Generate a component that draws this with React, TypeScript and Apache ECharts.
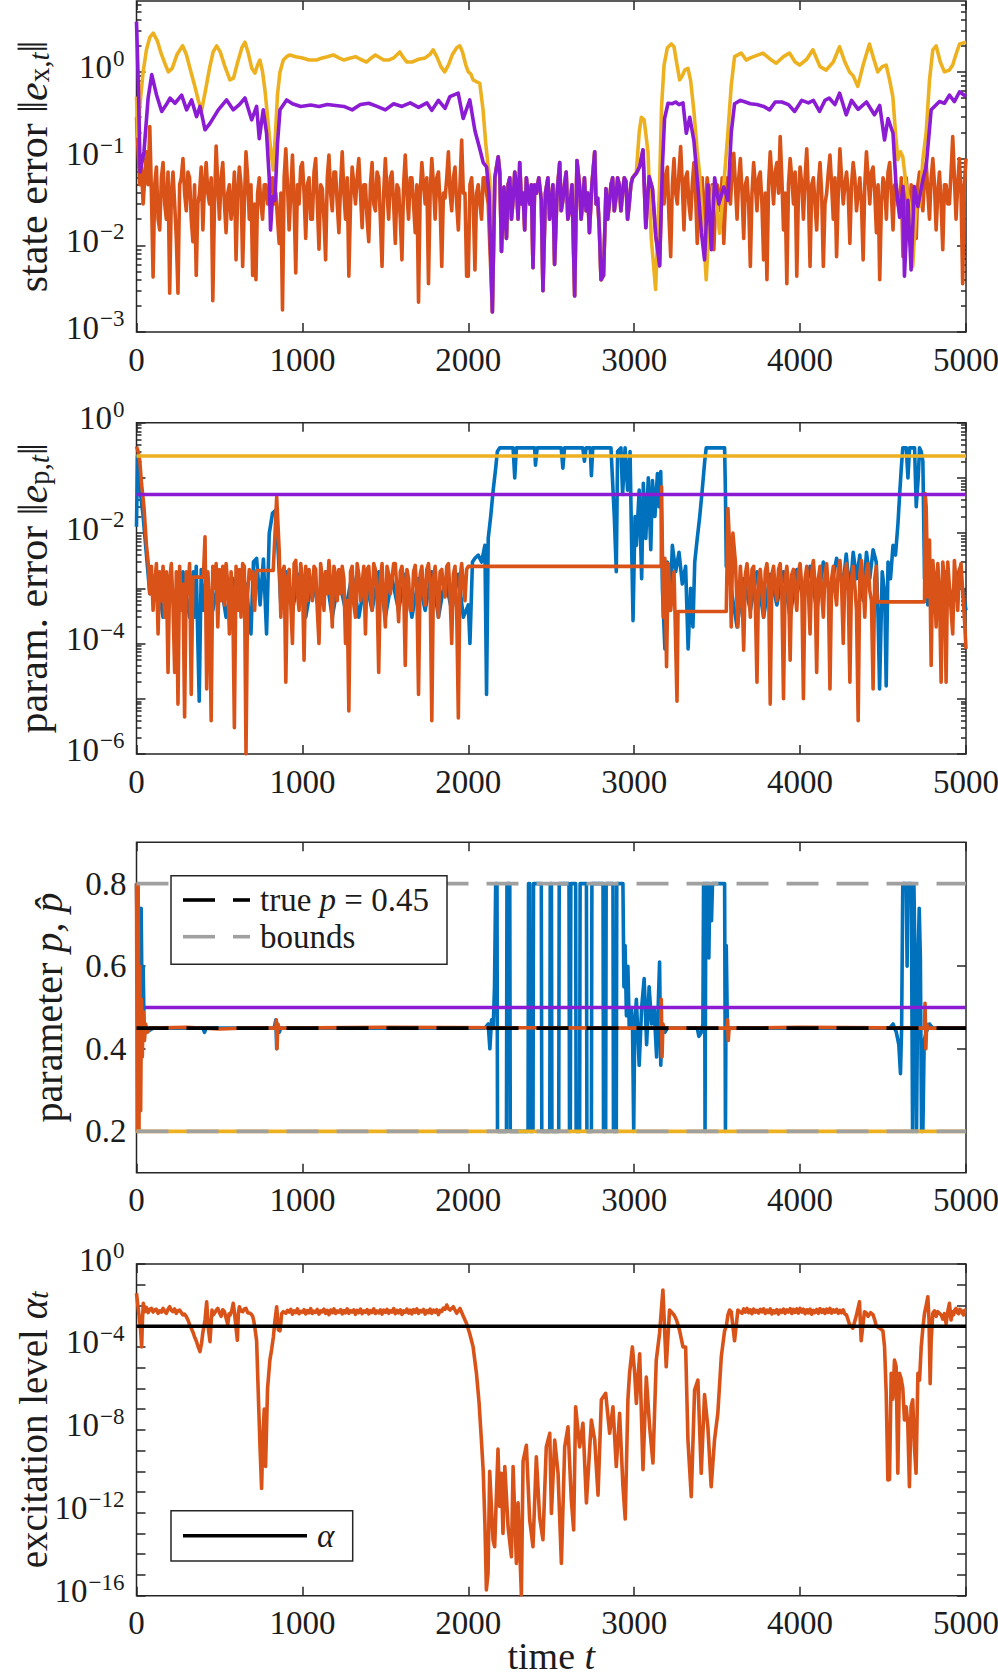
import React, { useEffect, useRef } from "react";
import * as echarts from "echarts";

type P = [number, number][];

// ---------------- axis values ----------------
const timeMin = 0;
const timeMax = 5000;
const timeStep = 1000;
const p1Decades = [-3, -2, -1, 0];
const p2Decades = [-6, -5, -4, -3, -2, -1, 0];
const p2LabelDecades = [-6, -4, -2, 0];
const p3Ticks = [0.2, 0.4, 0.6, 0.8];
const p4Decades = [-16, -15, -14, -13, -12, -11, -10, -9, -8, -7, -6, -5, -4, -3, -2, -1, 0];
const p4LabelDecades = [-16, -12, -8, -4, 0];

// ---------------- constants ----------------
const paramErrYellow = 0.25;
const paramErrPurple = 0.05;
const paramYellow = 0.2;
const paramPurple = 0.5;
const trueP = 0.45;
const boundLow = 0.2;
const boundHigh = 0.8;
const alphaLevel = 1e-3;

// uniformly sampled stretches: [startTime, stepTime, values]
const seq = (t0: number, dt: number, vals: number[]): P => vals.map((v, k) => [t0 + k * dt, v]);

// ---------------- panel 1 : state error ----------------
const stateErrPurple: P = [
  [0, 3.8], [12, 0.6], [22, 0.07], [45, 0.12], [70, 0.5], [92, 0.93], [120, 0.55], [152, 0.35], [180, 0.42], [202, 0.5],
  [232, 0.435], [272, 0.54], [302, 0.365], [332, 0.475], [362, 0.305], [383, 0.4], [413, 0.215], [443, 0.255], [493, 0.365],
  [543, 0.475], [583, 0.365], [620, 0.42], [654, 0.5], [694, 0.28], [724, 0.4], [740, 0.17], [764, 0.365], [784, 0.196],
  [800, 0.06], [808, 0.015], [820, 0.0365], [834, 0.033], [850, 0.15], [865, 0.365], [905, 0.475], [940, 0.43], [990, 0.4],
  [1050, 0.415], [1100, 0.4], [1150, 0.42], [1200, 0.41], [1250, 0.4], [1300, 0.365], [1350, 0.42], [1400, 0.435],
  [1450, 0.4], [1500, 0.365], [1550, 0.43], [1600, 0.4], [1650, 0.44], [1700, 0.39], [1750, 0.44], [1780, 0.36],
  [1820, 0.47], [1860, 0.38], [1889, 0.52], [1939, 0.57], [1969, 0.29], [2009, 0.475], [2040, 0.21], [2069, 0.13],
  [2090, 0.09], [2110, 0.08], [2125, 0.04], [2145, 0.0017], [2160, 0.06], [2180, 0.105], [2190, 0.068], [2200, 0.0085],
  [2215, 0.047], [2230, 0.012], [2240, 0.05], [2250, 0.06], [2260, 0.02], [2270, 0.033], [2280, 0.07], [2290, 0.05],
  [2300, 0.02], [2310, 0.09], [2320, 0.03], [2330, 0.04], [2340, 0.015], [2350, 0.06], [2360, 0.04], [2370, 0.03],
  [2380, 0.05], [2390, 0.0055], [2400, 0.05], [2410, 0.04], [2425, 0.06], [2440, 0.033], [2450, 0.003], [2465, 0.04],
  [2480, 0.06], [2490, 0.02], [2500, 0.03], [2510, 0.05], [2520, 0.006], [2535, 0.04], [2551, 0.09], [2560, 0.025],
  [2570, 0.033], [2580, 0.05], [2590, 0.07], [2600, 0.02], [2610, 0.025], [2625, 0.05], [2641, 0.0026], [2655, 0.095],
  [2670, 0.05], [2680, 0.02], [2690, 0.033], [2700, 0.06], [2710, 0.025], [2720, 0.04], [2730, 0.014], [2745, 0.05],
  [2762, 0.12], [2770, 0.03], [2780, 0.035], [2790, 0.015], [2800, 0.004], [2815, 0.0045], [2830, 0.045], [2840, 0.02],
  [2850, 0.03], [2860, 0.05], [2870, 0.06], [2880, 0.025], [2890, 0.035], [2900, 0.06], [2910, 0.05], [2920, 0.025],
  [2930, 0.04], [2940, 0.06], [2950, 0.055], [2960, 0.02], [2970, 0.03], [2980, 0.05], [2990, 0.06], [3013, 0.068],
  [3033, 0.081], [3053, 0.126], [3070, 0.016], [3090, 0.062], [3110, 0.045], [3130, 0.013], [3153, 0.0058], [3170, 0.081],
  [3183, 0.29], [3204, 0.435], [3230, 0.43], [3250, 0.45], [3270, 0.42], [3294, 0.44], [3314, 0.196], [3335, 0.3],
  [3360, 0.16], [3384, 0.0475], [3405, 0.014], [3424, 0.0068], [3445, 0.05], [3465, 0.0089], [3485, 0.06], [3510, 0.03],
  [3540, 0.047], [3565, 0.033], [3585, 0.2], [3605, 0.43], [3640, 0.47], [3670, 0.45], [3700, 0.43], [3740, 0.42],
  [3780, 0.4], [3816, 0.365], [3850, 0.45], [3890, 0.45], [3930, 0.42], [3967, 0.35], [4010, 0.47], [4050, 0.44],
  [4080, 0.47], [4117, 0.35], [4150, 0.47], [4175, 0.5], [4210, 0.42], [4238, 0.57], [4278, 0.32], [4310, 0.47],
  [4350, 0.37], [4400, 0.45], [4448, 0.32], [4480, 0.41], [4509, 0.164], [4530, 0.29], [4560, 0.196], [4579, 0.0475],
  [4600, 0.021], [4620, 0.0475], [4629, 0.0044], [4650, 0.033], [4669, 0.0052], [4689, 0.0475], [4710, 0.028],
  [4740, 0.057], [4760, 0.081], [4790, 0.365], [4810, 0.4], [4840, 0.455], [4870, 0.435], [4900, 0.54], [4930, 0.455],
  [4961, 0.59], [5000, 0.52],
];

const stateErrYellowA: P = [
  [0, 0.52], [8, 0.18], [20, 0.4], [40, 1.0], [60, 1.8], [80, 2.5], [101, 2.8], [125, 2.3], [150, 1.6], [175, 1.2],
  [192, 1.0], [215, 1.1], [245, 1.6], [278, 2.0], [300, 1.6], [325, 1.05], [350, 0.7], [375, 0.45], [393, 0.365],
  [415, 0.6], [440, 1.1], [462, 1.7], [483, 2.0], [505, 1.7], [530, 1.2], [563, 0.81], [585, 0.85], [610, 1.3],
  [635, 1.9], [654, 2.2], [672, 1.7], [695, 1.1], [714, 0.97], [730, 1.2], [744, 1.37], [760, 1.0], [775, 0.6],
  [790, 0.3], [805, 0.15], [824, 0.074], [838, 0.2], [850, 0.55], [865, 1.0], [885, 1.37], [905, 1.5], [925, 1.57],
  [960, 1.5], [1000, 1.45], [1040, 1.37], [1085, 1.37], [1120, 1.45], [1150, 1.5], [1186, 1.57], [1220, 1.45],
  [1250, 1.37], [1290, 1.45], [1320, 1.5], [1350, 1.4], [1386, 1.3], [1415, 1.45], [1440, 1.57], [1470, 1.45],
  [1490, 1.37], [1520, 1.37], [1550, 1.45], [1587, 1.7], [1610, 1.45], [1630, 1.3], [1660, 1.3], [1700, 1.4],
  [1740, 1.45], [1770, 1.6], [1788, 1.8], [1810, 1.5], [1835, 1.15], [1858, 1.0], [1880, 1.2], [1905, 1.6],
  [1930, 1.9], [1949, 2.0], [1965, 1.7], [1985, 1.2], [2000, 1.0], [2015, 0.95], [2029, 0.81], [2045, 0.78],
  [2069, 0.74], [2089, 0.365], [2105, 0.15], [2120, 0.08], [2130, 0.057],
];

const stateErrYellowB: P = [
  [3013, 0.07], [3030, 0.2], [3043, 0.3], [3060, 0.28], [3083, 0.12], [3103, 0.012], [3129, 0.0031], [3145, 0.02],
  [3153, 0.05], [3165, 0.4], [3180, 1.2], [3200, 1.9], [3224, 2.1], [3240, 1.95], [3255, 1.3], [3274, 0.81],
  [3290, 0.9], [3305, 1.05], [3324, 1.1], [3340, 0.8], [3360, 0.35], [3380, 0.12], [3394, 0.068], [3410, 0.02],
  [3425, 0.008], [3434, 0.004], [3445, 0.01], [3455, 0.02], [3475, 0.0475], [3495, 0.03], [3515, 0.0138], [3540, 0.05],
  [3565, 0.2], [3585, 0.7], [3605, 1.5], [3645, 1.65], [3675, 1.37], [3700, 1.45], [3740, 1.55], [3776, 1.65],
  [3820, 1.4], [3856, 1.26], [3900, 1.5], [3936, 1.65], [3970, 1.3], [3997, 1.2], [4040, 1.4], [4077, 1.8],
  [4120, 1.15], [4157, 1.05], [4200, 1.3], [4238, 1.95], [4270, 1.3], [4298, 1.0], [4320, 0.9], [4348, 0.68],
  [4380, 1.2], [4418, 2.1], [4440, 1.5], [4468, 1.0], [4495, 1.15], [4519, 1.2], [4540, 0.8], [4559, 0.52],
  [4575, 0.2], [4589, 0.097], [4605, 0.12], [4619, 0.105], [4640, 0.0475], [4659, 0.03], [4679, 0.0057], [4700, 0.03],
  [4720, 0.028], [4740, 0.097], [4760, 0.2], [4780, 0.8], [4800, 1.8], [4820, 2.0], [4845, 1.3], [4870, 1.0],
  [4900, 1.05], [4920, 1.2], [4940, 1.6], [4961, 2.1], [5000, 2.2],
];

// orange, t = 0 .. 2120 every 10
const stateErrOrangeA = [
  0.3, 0.12, 0.05, 0.08, 0.03, 0.06, 0.12, 0.05, 0.235, 0.04,
  0.0043, 0.05, 0.08, 0.02, 0.015, 0.06, 0.09, 0.03, 0.02, 0.07,
  0.0028, 0.04, 0.07, 0.03, 0.012, 0.0028, 0.05, 0.06, 0.1, 0.04,
  0.025, 0.07, 0.06, 0.02, 0.011, 0.05, 0.0045, 0.03, 0.04, 0.08,
  0.015, 0.05, 0.09, 0.04, 0.03, 0.06, 0.0023, 0.03, 0.14, 0.05,
  0.02, 0.06, 0.09, 0.03, 0.014, 0.04, 0.05, 0.02, 0.03, 0.07,
  0.0068, 0.04, 0.08, 0.05, 0.0057, 0.03, 0.12, 0.06, 0.02, 0.05,
  0.0045, 0.03, 0.004, 0.04, 0.06, 0.03, 0.02, 0.05, 0.05, 0.03,
  0.035, 0.05, 0.06, 0.03, 0.04, 0.02, 0.0105, 0.04, 0.0018, 0.06,
  0.13, 0.05, 0.015, 0.04, 0.11, 0.03, 0.0048, 0.05, 0.03, 0.08,
  0.09, 0.04, 0.012, 0.05, 0.06, 0.02, 0.02, 0.07, 0.1, 0.03,
  0.009, 0.05, 0.045, 0.02, 0.0068, 0.06, 0.11, 0.04, 0.025, 0.07,
  0.07, 0.03, 0.014, 0.05, 0.12, 0.04, 0.02, 0.06, 0.0044, 0.03,
  0.08, 0.05, 0.03, 0.06, 0.1, 0.04, 0.016, 0.05, 0.05, 0.02,
  0.011, 0.05, 0.09, 0.03, 0.025, 0.07, 0.06, 0.02, 0.0057, 0.04,
  0.1, 0.04, 0.02, 0.06, 0.07, 0.03, 0.0105, 0.05, 0.045, 0.02,
  0.0068, 0.05, 0.11, 0.04, 0.02, 0.06, 0.06, 0.03, 0.014, 0.05,
  0.0022, 0.04, 0.09, 0.05, 0.03, 0.06, 0.0036, 0.04, 0.1, 0.05,
  0.02, 0.06, 0.07, 0.03, 0.0057, 0.04, 0.035, 0.06, 0.12, 0.04,
  0.025, 0.06, 0.08, 0.03, 0.015, 0.05, 0.164, 0.04, 0.04, 0.0044,
  0.0044, 0.05, 0.06, 0.03, 0.0052, 0.04, 0.05, 0.03, 0.02, 0.06,
  0.06, 0.04, 0.03,
];

// orange, t = 3180 .. 5000 every 10
const stateErrOrangeB = [
  0.03, 0.06, 0.08, 0.02, 0.0074, 0.05, 0.1, 0.04, 0.03, 0.07,
  0.138, 0.05, 0.015, 0.06, 0.07, 0.03, 0.02, 0.05, 0.09, 0.04,
  0.0105, 0.03, 0.04, 0.06, 0.015, 0.03, 0.06, 0.04, 0.02, 0.05,
  0.0089, 0.03, 0.05, 0.04, 0.025, 0.06, 0.0105, 0.03, 0.06, 0.04,
  0.03, 0.07, 0.115, 0.05, 0.02, 0.06, 0.1, 0.04, 0.012, 0.05,
  0.06, 0.03, 0.0057, 0.04, 0.09, 0.05, 0.025, 0.06, 0.07, 0.03,
  0.0068, 0.04, 0.004, 0.05, 0.12, 0.06, 0.03, 0.07, 0.09, 0.04,
  0.18, 0.06, 0.015, 0.04, 0.0036, 0.05, 0.1, 0.06, 0.03, 0.07,
  0.0044, 0.04, 0.08, 0.05, 0.02, 0.06, 0.13, 0.04, 0.0057, 0.05,
  0.06, 0.03, 0.015, 0.05, 0.09, 0.04, 0.0057, 0.03, 0.04, 0.07,
  0.11, 0.05, 0.02, 0.06, 0.0074, 0.04, 0.13, 0.06, 0.03, 0.05,
  0.07, 0.04, 0.0105, 0.05, 0.09, 0.06, 0.025, 0.04, 0.06, 0.03,
  0.0068, 0.05, 0.12, 0.06, 0.03, 0.07, 0.08, 0.04, 0.014, 0.05,
  0.004, 0.03, 0.06, 0.05, 0.02, 0.07, 0.09, 0.04, 0.015, 0.05,
  0.05, 0.03, 0.025, 0.06, 0.0074, 0.04, 0.06, 0.03, 0.02, 0.05,
  0.04, 0.02, 0.012, 0.05, 0.07, 0.04, 0.025, 0.06, 0.09, 0.04,
  0.02, 0.06, 0.1, 0.05, 0.015, 0.04, 0.07, 0.03, 0.0089, 0.05,
  0.05, 0.03, 0.03, 0.07, 0.18, 0.06, 0.02, 0.05, 0.1, 0.04,
  0.0036, 0.05, 0.1,
];

// ---------------- panel 2 : parameter error ----------------
const paramErrOrangeStart: P = [[0, 0.37], [10, 0.3], [20, 0.2], [30, 0.08], [45, 0.03], [60, 0.006]];
// t = 70 .. 340 every 10
const paramErrOrange1 = [
  0.003, 0.0008, 0.0025, 0.0004, 0.0012, 0.0028, 0.00015, 0.002, 0.0006, 0.0025,
  0.0003, 0.002, 3e-5, 0.0015, 0.0028, 0.0005, 3e-5, 0.002, 8e-6, 0.0025,
  0.0004, 0.0012, 4.7e-6, 0.002, 0.0008, 0.0028, 1.2e-5, 0.0016,
];
const paramErrOrangeMid1: P = [[403, 0.0016], [413, 0.0086], [423, 1.5e-5]];
// t = 430 .. 700 every 10
const paramErrOrange2 = [
  0.002, 0.0006, 4e-6, 0.0025, 0.001, 0.0028, 0.0002, 0.0022, 0.0006, 0.0025,
  0.0005, 0.0028, 0.0012, 0.00015, 0.002, 0.0007, 3e-6, 0.0025, 0.0004, 0.0022,
  0.0003, 0.0028, 0.0025, 1e-6, 0.0008, 0.0022, 0.0015, 0.002,
];
const paramErrOrangeMid2: P = [[712, 0.0004], [724, 0.0021], [824, 0.0021], [835, 0.01], [845, 0.045], [860, 0.005]];
// t = 870 .. 2000 every 10
const paramErrOrange3 = [
  0.0003, 0.002, 0.0025, 2e-5, 0.0015, 0.0022, 0.0005, 0.0001, 0.0028, 0.0032,
  0.0008, 0.0004, 0.0028, 0.0015, 5e-5, 0.0025, 0.0006, 0.0022, 0.0012, 0.0006,
  0.0025, 0.0022, 0.0004, 0.0001, 0.0028, 0.0015, 0.0004, 0.002, 0.0008, 0.0032,
  0.0012, 0.0002, 0.0025, 0.0018, 0.0006, 0.0022, 0.0008, 0.0025, 0.0015, 0.0001,
  0.0006, 6e-6, 0.002, 0.0025, 0.0005, 0.0003, 0.0028, 0.0018, 0.0006, 0.0012,
  0.0025, 0.00015, 0.0022, 0.0025, 0.0008, 0.0004, 0.0028, 0.0022, 0.0009, 3e-5,
  0.0015, 0.0028, 0.0006, 0.0002, 0.0025, 0.0018, 0.0008, 0.0015, 0.0028, 0.0028,
  0.0009, 0.00025, 0.002, 0.0025, 0.0012, 4e-5, 0.0022, 0.0015, 0.0004, 0.0004,
  0.002, 0.0026, 0.0009, 1.2e-5, 0.0018, 0.0025, 0.0008, 0.0005, 0.0022, 0.0028,
  0.0012, 4e-6, 0.0015, 0.0025, 0.0009, 0.0003, 0.002, 0.0022, 0.0011, 0.0007,
  0.0025, 0.0028, 0.0008, 0.0001, 0.0018, 0.0025, 0.0004, 4.5e-6, 0.0015, 0.0028,
  0.0012, 0.0006, 0.0022, 0.0025,
];
const paramErrOrangeMid3: P = [
  [2010, 0.0025], [3163, 0.0025], [3165, 0.069], [3175, 0.0003], [3185, 0.0035], [3195, 3.8e-5], [3205, 0.0028],
  [3220, 0.0004], [3240, 0.002], [3258, 9e-6], [3264, 0.00038], [3555, 0.00038], [3565, 0.028], [3575, 0.006],
  [3585, 0.0002], [3595, 0.01], [3610, 0.003], [3625, 0.0002],
];
// t = 3640 .. 4450 every 10
const paramErrOrange4 = [
  0.0025, 0.0008, 7.6e-5, 0.0018, 0.0028, 0.0012, 0.0003, 0.0022, 0.0025, 0.0006,
  2e-5, 0.0015, 0.0022, 0.0009, 0.0003, 0.002, 0.0028, 0.0012, 8e-6, 0.0018,
  0.0025, 0.001, 0.0006, 0.0022, 0.0028, 0.0008, 1e-5, 0.0015, 0.0025, 0.0012,
  5e-5, 0.0018, 0.0022, 0.0009, 0.0004, 0.002, 0.0028, 0.0011, 1e-5, 0.0015,
  0.0025, 0.0009, 0.00015, 0.002, 0.0032, 0.0012, 3e-5, 0.0015, 0.0025, 0.0008,
  0.0003, 0.0018, 0.0028, 0.001, 1.5e-5, 0.0015, 0.0025, 0.0009, 0.0005, 0.0022,
  0.0032, 0.0012, 0.0001, 0.0018, 0.0028, 0.0009, 2e-5, 0.0015, 0.0025, 0.0011,
  0.0004, 4e-6, 0.0018, 0.0032, 0.0012, 0.0003, 0.002, 0.0028, 0.0009, 0.0006,
  1.5e-5, 0.0015,
];
const paramErrOrangeMid4: P = [
  [4459, 0.0025], [4465, 0.00057], [4750, 0.00057], [4754, 0.052], [4760, 0.03], [4770, 0.0007], [4780, 0.0075],
  [4790, 4e-5],
];
// t = 4800 .. 5000 every 10
const paramErrOrange5 = [
  0.0032, 0.0012, 0.0002, 0.0028, 0.0009, 2e-5, 0.003, 0.0015, 2e-5, 0.003,
  0.0011, 0.0004, 0.00015, 0.0032, 0.0012, 0.0004, 0.002, 0.0028, 0.0009, 0.0003,
  8e-5,
];

const paramErrBlue: P = [
  [0, 0.013], [6, 0.25], [14, 0.15], [25, 0.05], [40, 0.02], [60, 0.004], [80, 0.0008], [120, 0.002], [160, 0.0003],
  [200, 0.0015], [240, 0.0004], [280, 0.002], [320, 0.0003], [342, 0.002], [350, 0.0003], [360, 0.0025], [370, 0.0001],
  [378, 9e-6], [390, 0.0022], [403, 0.0004], [420, 0.0015], [460, 0.0004], [500, 0.0018], [540, 0.0003], [580, 0.0015],
  [620, 0.0004], [660, 0.0012], [690, 0.00015], [705, 0.003], [724, 0.0035], [745, 0.0005], [765, 0.0034], [784, 0.00015],
  [800, 0.0098], [820, 0.023], [840, 0.026], [850, 0.008], [870, 0.0005], [900, 0.002], [940, 0.0004], [980, 0.0018],
  [1020, 0.0003], [1060, 0.0015], [1100, 0.0004], [1140, 0.002], [1180, 0.0003], [1220, 0.0015], [1260, 0.0004],
  [1300, 0.0018], [1340, 0.0003], [1380, 0.0015], [1420, 0.0004], [1460, 0.002], [1500, 0.0003], [1540, 0.0015],
  [1580, 0.0004], [1620, 0.0018], [1660, 0.0003], [1700, 0.0015], [1740, 0.0004], [1780, 0.002], [1820, 0.0003],
  [1860, 0.0015], [1900, 0.0004], [1940, 0.0018], [1970, 0.0003], [2000, 0.0005], [2010, 0.0001], [2025, 0.003],
  [2040, 0.0035], [2060, 0.004], [2080, 0.003], [2100, 0.006], [2110, 1.2e-5], [2120, 0.008], [2135, 0.02], [2150, 0.06],
  [2165, 0.15], [2175, 0.3], [2190, 0.35], [2270, 0.35], [2280, 0.1], [2290, 0.35], [2400, 0.35], [2405, 0.17],
  [2415, 0.35], [2560, 0.35], [2570, 0.15], [2580, 0.35], [2690, 0.35], [2700, 0.2], [2710, 0.35], [2735, 0.35],
  [2742, 0.11], [2750, 0.35], [2860, 0.35], [2880, 0.02], [2892, 0.002], [2900, 0.3], [2920, 0.35], [2930, 0.05],
  [2945, 0.35], [2960, 0.06], [2975, 0.3], [2985, 0.005], [2993, 0.00026], [3005, 0.02], [3013, 0.006], [3030, 0.06],
  [3045, 0.0015], [3055, 0.08], [3070, 0.008], [3085, 0.1], [3100, 0.005], [3110, 0.09], [3125, 0.02], [3140, 0.12],
  [3150, 0.03], [3160, 0.13], [3170, 0.001], [3185, 8e-5], [3200, 0.003], [3215, 0.0004], [3230, 0.006], [3250, 0.002],
  [3270, 0.0045], [3290, 0.0012], [3310, 0.0025], [3325, 8e-5], [3340, 0.001], [3354, 0.0002], [3365, 0.003],
  [3380, 0.008], [3395, 0.02], [3410, 0.06], [3425, 0.2], [3434, 0.35], [3545, 0.35], [3550, 0.05], [3555, 0.0025],
  [3560, 0.01], [3580, 0.0012], [3620, 0.0002], [3660, 0.0015], [3700, 0.0004], [3740, 0.002], [3780, 0.0003],
  [3820, 0.0018], [3860, 0.0005], [3900, 0.002], [3940, 0.0003], [3980, 0.0022], [4020, 0.0006], [4060, 0.0025],
  [4100, 0.0004], [4140, 0.003], [4180, 0.0008], [4220, 0.0035], [4260, 0.0012], [4278, 0.0042], [4300, 0.0008],
  [4320, 0.0045], [4340, 0.0015], [4360, 0.004], [4380, 0.0006], [4400, 0.0045], [4420, 0.0015], [4440, 0.005],
  [4459, 0.003], [4470, 0.0003], [4479, 1.5e-5], [4495, 0.002], [4510, 0.0008], [4519, 1.7e-5], [4530, 0.003],
  [4545, 0.0015], [4560, 0.006], [4575, 0.004], [4590, 0.015], [4600, 0.05], [4610, 0.15], [4619, 0.35], [4640, 0.35],
  [4650, 0.1], [4660, 0.35], [4690, 0.35], [4700, 0.03], [4712, 0.1], [4720, 0.35], [4730, 0.3], [4740, 0.2],
  [4750, 0.0015], [4760, 0.006], [4770, 0.0005], [4780, 0.0012], [4800, 0.0025], [4840, 0.0006], [4880, 0.002],
  [4920, 0.0005], [4960, 0.0022], [5000, 0.0004],
];

// ---------------- panel 3 : parameter estimate ----------------
const paramBlue: P = [
  [0, 0.8], [10, 0.45], [20, 0.5], [28, 0.74], [34, 0.5], [40, 0.6], [46, 0.45], [60, 0.44], [100, 0.45], [400, 0.45],
  [410, 0.44], [420, 0.45], [830, 0.45], [840, 0.47], [845, 0.4], [850, 0.46], [860, 0.44], [870, 0.45], [2100, 0.45],
  [2120, 0.46], [2130, 0.4], [2140, 0.47], [2150, 0.45], [2158, 0.55], [2165, 0.8], [2173, 0.8], [2176, 0.2], [2230, 0.2],
  [2233, 0.8], [2250, 0.8], [2253, 0.2], [2360, 0.2], [2363, 0.8], [2370, 0.8], [2373, 0.2], [2390, 0.2], [2393, 0.8],
  [2440, 0.8], [2443, 0.2], [2491, 0.2], [2494, 0.8], [2501, 0.8], [2504, 0.2], [2545, 0.2], [2548, 0.8], [2607, 0.8],
  [2610, 0.2], [2615, 0.2], [2618, 0.8], [2647, 0.8], [2650, 0.2], [2671, 0.2], [2674, 0.8], [2712, 0.8], [2715, 0.2],
  [2742, 0.2], [2745, 0.8], [2812, 0.8], [2815, 0.2], [2828, 0.2], [2831, 0.8], [2872, 0.8], [2875, 0.2], [2892, 0.2],
  [2895, 0.8], [2932, 0.8], [2938, 0.55], [2945, 0.65], [2953, 0.48], [2962, 0.6], [2970, 0.45], [2983, 0.5],
  [2990, 0.45], [2997, 0.2], [3003, 0.45], [3013, 0.52], [3030, 0.36], [3045, 0.5], [3060, 0.57], [3075, 0.41],
  [3090, 0.55], [3105, 0.46], [3120, 0.5], [3135, 0.38], [3153, 0.61], [3160, 0.36], [3170, 0.46], [3185, 0.44],
  [3200, 0.45], [3380, 0.45], [3390, 0.43], [3405, 0.44], [3414, 0.46], [3418, 0.8], [3424, 0.8], [3427, 0.2],
  [3432, 0.8], [3445, 0.8], [3450, 0.62], [3456, 0.8], [3466, 0.71], [3472, 0.8], [3545, 0.8], [3550, 0.2], [3555, 0.65],
  [3562, 0.44], [3575, 0.45], [4540, 0.45], [4560, 0.46], [4580, 0.44], [4595, 0.41], [4605, 0.34], [4612, 0.45],
  [4619, 0.8], [4640, 0.8], [4645, 0.6], [4650, 0.8], [4670, 0.8], [4678, 0.2], [4686, 0.8], [4695, 0.55], [4702, 0.2],
  [4710, 0.6], [4718, 0.74], [4725, 0.62], [4732, 0.2], [4740, 0.2], [4748, 0.42], [4760, 0.44], [4780, 0.46],
  [4800, 0.45], [5000, 0.45],
];

const paramOrange: P = [
  [0, 0.8], [5, 0.2], [10, 0.8], [15, 0.2], [20, 0.6], [25, 0.25], [30, 0.52], [35, 0.38], [40, 0.49], [48, 0.42],
  [55, 0.46], [65, 0.44], [80, 0.45], [300, 0.452], [500, 0.448], [700, 0.451], [840, 0.45], [843, 0.47], [847, 0.4],
  [852, 0.46], [860, 0.45], [1500, 0.452], [3160, 0.45], [3163, 0.52], [3168, 0.38], [3173, 0.46], [3180, 0.45],
  [3560, 0.45], [3563, 0.47], [3567, 0.42], [3572, 0.45], [4000, 0.452], [4750, 0.45], [4753, 0.51], [4758, 0.4],
  [4763, 0.46], [4770, 0.45], [5000, 0.45],
];

// ---------------- panel 4 : excitation level ----------------
const excitationStart: P = [
  [0, 0.039], [8, 0.01], [16, 0.003], [24, 0.0008], [31, 0.0001], [36, 0.002], [41, 0.0126], [50, 0.005], [60, 0.008],
  [70, 0.0045], [80, 0.0065], [90, 0.0072], [100, 0.0048], [110, 0.0062], [120, 0.0065], [130, 0.0042], [140, 0.0055],
  [150, 0.0048], [160, 0.0072], [170, 0.0052], [180, 0.0042], [190, 0.0066], [200, 0.0087], [210, 0.0058], [220, 0.005],
  [230, 0.0068], [240, 0.0042], [250, 0.0055], [260, 0.006], [270, 0.0045], [280, 0.0035], [290, 0.0038], [300, 0.0029],
  [310, 0.002], [320, 0.0012], [330, 0.0008], [343, 0.00046], [350, 0.0003], [360, 0.0002], [372, 0.0001], [383, 6e-5],
  [392, 0.00015], [400, 0.0005], [413, 0.002], [423, 0.015], [433, 0.0008], [443, 0.00018], [455, 0.006], [462, 0.0035],
  [470, 0.0042], [480, 0.0058], [490, 0.0072], [500, 0.0045], [510, 0.003], [520, 0.0062], [530, 0.005], [540, 0.0025],
  [550, 0.0012], [558, 0.004], [565, 0.0035], [575, 0.006], [583, 0.0126], [590, 0.005], [595, 0.002], [608, 0.00021],
  [614, 0.004], [620, 0.0087], [630, 0.0055], [640, 0.005], [650, 0.0068], [660, 0.0072], [670, 0.0045], [684, 0.0042],
  [692, 0.0038], [700, 0.003], [707, 0.0018], [714, 0.0008], [724, 0.0002], [734, 5.8e-7], [744, 2e-9], [754, 1.5e-11],
  [762, 5e-9], [770, 1e-7], [778, 1.7e-10], [790, 1e-6], [804, 2.3e-5], [815, 8e-5], [825, 0.0003], [835, 0.002],
  [845, 0.0087], [855, 0.00066], [865, 0.0006], [875, 0.004], [885, 0.005],
];
// t = 900 .. 1890 every 10
const excitationPlateau1 = [
  0.0042, 0.0058, 0.0048, 0.0065, 0.0038, 0.0055, 0.0045, 0.0068, 0.004, 0.0052,
  0.0047, 0.0062, 0.0039, 0.0056, 0.0044, 0.007, 0.0041, 0.0053, 0.0046, 0.0064,
  0.0038, 0.0055, 0.0049, 0.0066, 0.0042, 0.0058, 0.0036, 0.006, 0.0045, 0.0068,
  0.0041, 0.0054, 0.0047, 0.0063, 0.0039, 0.0057, 0.0044, 0.0069, 0.0042, 0.0056,
  0.0048, 0.0061, 0.0037, 0.0058, 0.0045, 0.0066, 0.004, 0.0055, 0.0047, 0.0063,
  0.0039, 0.0057, 0.0046, 0.0068, 0.0041, 0.0054, 0.0044, 0.0062, 0.0038, 0.0059,
  0.0046, 0.0065, 0.0042, 0.0056, 0.0048, 0.007, 0.004, 0.0058, 0.0044, 0.0061,
  0.0037, 0.0055, 0.0047, 0.0066, 0.0043, 0.0059, 0.0039, 0.0063, 0.0046, 0.0068,
  0.0041, 0.0057, 0.0049, 0.0064, 0.0038, 0.0056, 0.0045, 0.0067, 0.0042, 0.006,
  0.0047, 0.0062, 0.0036, 0.0058, 0.0052, 0.0075, 0.0065, 0.0105, 0.0072, 0.006,
];
const excitationMid: P = [
  [1910, 0.0087], [1930, 0.0042], [1950, 0.0072], [1970, 0.003], [1989, 0.0014], [2010, 0.0004], [2029, 0.0001],
  [2049, 5.4e-6], [2065, 2e-7], [2079, 3.2e-9], [2090, 1e-10], [2100, 3e-13], [2109, 1.9e-16], [2119, 1.2e-15],
  [2129, 1e-10], [2149, 5e-14], [2159, 2.3e-14], [2179, 1.2e-9], [2189, 2e-12], [2199, 8e-11], [2209, 1e-13],
  [2220, 1.7e-10], [2240, 2e-13], [2260, 7.6e-15], [2270, 1.7e-10], [2290, 3.6e-15], [2300, 3e-12], [2320, 1.1e-16],
  [2330, 3e-10], [2350, 1.8e-9], [2370, 4.5e-13], [2390, 2.3e-14], [2410, 5e-10], [2430, 6e-13], [2450, 5e-14],
  [2470, 1.5e-9], [2491, 6.8e-9], [2501, 9.3e-13], [2521, 3.2e-9], [2541, 8e-11], [2561, 3.6e-15], [2581, 1.5e-9],
  [2601, 1.4e-8], [2621, 4.2e-12], [2635, 1.5e-13], [2647, 1.3e-7], [2671, 1.5e-9], [2691, 2.1e-8], [2712, 3e-12],
  [2742, 3e-8], [2762, 3.2e-9], [2782, 7e-12], [2802, 2.8e-7], [2828, 5.8e-7], [2852, 6.8e-9], [2872, 1.3e-7],
  [2892, 1.7e-10], [2912, 6.3e-8], [2932, 2e-11], [2946, 5e-13], [2962, 2.8e-7], [2972, 5.4e-6], [2989, 1e-4],
  [3003, 5.4e-6], [3013, 1.9e-7], [3033, 4.6e-5], [3053, 1.2e-10], [3073, 3.5e-6], [3093, 1.4e-8], [3113, 2.5e-10],
  [3133, 2.3e-5], [3153, 4.6e-4], [3173, 0.056], [3193, 1.1e-5], [3213, 0.006], [3240, 0.0035], [3255, 0.002],
  [3274, 0.0006], [3294, 0.0001], [3310, 1e-4], [3324, 3.2e-9], [3344, 6e-12], [3364, 8.3e-7], [3384, 2.5e-6],
  [3404, 8e-11], [3424, 5e-7], [3444, 1.4e-8], [3464, 1.8e-11], [3484, 3.2e-9], [3504, 6.3e-8], [3525, 3.4e-5],
  [3545, 0.0006], [3555, 0.001], [3565, 0.0035], [3575, 0.006], [3585, 0.005], [3605, 0.0002], [3625, 0.006],
  [3640, 0.0048],
];
// t = 3650 .. 4270 every 10
const excitationPlateau2 = [
  0.0042, 0.0068, 0.0048, 0.0072, 0.0045, 0.0062, 0.004, 0.0066, 0.0047, 0.0058,
  0.0043, 0.0065, 0.0049, 0.0069, 0.0041, 0.006, 0.0046, 0.0068, 0.0039, 0.0057,
  0.0044, 0.0063, 0.0038, 0.0059, 0.0047, 0.0067, 0.0042, 0.0061, 0.0048, 0.007,
  0.0041, 0.0064, 0.0046, 0.0068, 0.0043, 0.0072, 0.0048, 0.0066, 0.004, 0.0062,
  0.0044, 0.0067, 0.0038, 0.0058, 0.0045, 0.0064, 0.0042, 0.007, 0.0047, 0.0063,
  0.0041, 0.0066, 0.0046, 0.0072, 0.0043, 0.0061, 0.0048, 0.0065, 0.0042, 0.0058,
  0.0044, 0.0062, 0.0038,
];
const excitationEnd: P = [
  [4280, 0.0035], [4298, 0.0012], [4318, 0.0008], [4338, 0.003], [4358, 0.015], [4368, 0.0002], [4388, 0.005],
  [4400, 0.0042], [4410, 0.003], [4425, 0.0045], [4440, 0.0035], [4450, 0.002], [4459, 0.001], [4480, 0.0008],
  [4499, 0.0006], [4509, 0.0001], [4519, 5.8e-7], [4529, 3.8e-11], [4539, 4e-11], [4549, 5.4e-6], [4559, 3e-7],
  [4569, 2.3e-5], [4579, 1.1e-5], [4589, 8e-11], [4599, 5.4e-6], [4609, 3e-6], [4619, 1e-6], [4629, 3e-8],
  [4639, 1.3e-7], [4649, 2.1e-8], [4659, 1.8e-11], [4669, 1.3e-7], [4679, 2.8e-7], [4689, 1.5e-9], [4699, 8e-11],
  [4710, 5.4e-6], [4720, 2.5e-6], [4730, 0.0001], [4740, 0.0008], [4750, 0.0042], [4760, 0.01], [4770, 0.026],
  [4777, 0.002], [4784, 1.7e-6], [4790, 0.0002], [4800, 0.0042], [4810, 0.0055], [4820, 0.003], [4830, 0.005],
  [4840, 0.0042], [4850, 0.0035], [4860, 0.0022], [4870, 0.004], [4880, 0.0013], [4890, 0.005], [4900, 0.0126],
  [4910, 0.002], [4918, 0.005], [4925, 0.0035], [4932, 0.006], [4940, 0.0072], [4948, 0.0045], [4955, 0.004],
  [4962, 0.0065], [4970, 0.006], [4978, 0.0042], [4985, 0.0035], [4992, 0.0058], [5000, 0.006],
];

// ---------------- styling ----------------
const FONT = '"Liberation Serif", "DejaVu Serif", serif';
const AX = "#262626";
const TXT = "#1c1c1c";
const COL = {
  blue: "#0072BD",
  orange: "#D95319",
  yellow: "#EDB120",
  purple: "#8B1CD3",
  gray: "#A0A0A0",
  black: "#000000",
};
const LW = 3.6;
const FS = 33;
const FSS = 23;

const grids = [
  { left: 136.5, top: 1, width: 829.5, height: 331 },
  { left: 136.5, top: 422.7, width: 829.5, height: 331.3 },
  { left: 136.5, top: 842.3, width: 829.5, height: 330.4 },
  { left: 136.5, top: 1264, width: 829.5, height: 331.7 },
];
const yRanges: [number, number][] = [[-3, 0.818], [-6, 0], [0.1, 0.9], [-16, 0]];

const lg = (pts: P) => pts.map(([t, v]) => [t, Math.log10(v)]);
const minorLog = (decades: number[], lo: number, hi: number) => {
  const out: number[] = [];
  decades.forEach((d) => {
    for (let k = 2; k <= 9; k++) {
      const v = d + Math.log10(k);
      if (v > lo && v < hi) out.push(v);
    }
  });
  return out;
};

const richTick = {
  b: { fontFamily: FONT, fontSize: FS, lineHeight: FS, color: TXT, verticalAlign: "bottom" },
  e: { fontFamily: FONT, fontSize: FSS, lineHeight: FSS, color: TXT, verticalAlign: "bottom", padding: [0, 0, 14, 1] },
};
const richNameOf = (fs: number) => {
  const ss = Math.round(fs * 0.7);
  return {
    r: { fontFamily: FONT, fontSize: fs, lineHeight: fs, color: TXT, verticalAlign: "top", padding: [0, 0, 6, 0] },
    i: { fontFamily: FONT, fontSize: fs, lineHeight: fs, color: TXT, fontStyle: "italic", verticalAlign: "top", padding: [0, 0, 6, 0] },
    s: { fontFamily: FONT, fontSize: ss, lineHeight: ss, color: TXT, verticalAlign: "bottom" },
    si: { fontFamily: FONT, fontSize: ss, lineHeight: ss, color: TXT, fontStyle: "italic", verticalAlign: "bottom" },
  };
};
const TIME_FS = 38;
const richTime = {
  r: { fontFamily: FONT, fontSize: TIME_FS, lineHeight: 32, color: TXT },
  i: { fontFamily: FONT, fontSize: TIME_FS, lineHeight: 32, color: TXT, fontStyle: "italic" },
};
const powFmt = (v: number) => {
  const n = Math.round(v);
  return `{b|10}{e|${n < 0 ? "\u2212" : ""}${Math.abs(n)}}`;
};

function buildOption() {
  const xAxis: any[] = [];
  const yAxis: any[] = [];
  const series: any[] = [];

  const names = [
    "{r|state error }{r|\u2016}{i|e}{s|x,}{si|t}{r|\u2016}",
    "{r|param. error }{r|\u2016}{i|e}{s|p,}{si|t}{r|\u2016}",
    "{r|parameter }{i|p, p\u0302}",
    "{r|excitation level }{i|\u03b1}{si|t}",
  ];
  const nameSizes = [42, 42, 40, 39];
  const nameGaps = [83, 83, 68, 84];
  const majors = [p1Decades, p2Decades, p3Ticks, p4Decades];
  const labels = [p1Decades, p2LabelDecades, p3Ticks, p4LabelDecades];
  const minors = [minorLog(p1Decades, -3, 0.818), minorLog(p2Decades, -6, 0), [] as number[], [] as number[]];

  grids.forEach((g, i) => {
    const [ymin, ymax] = yRanges[i];
    const tickStyle = { color: AX, width: 1.5 };
    xAxis.push({
      gridIndex: i, type: "value", min: timeMin, max: timeMax, interval: timeStep, position: "bottom",
      axisLine: { show: false, onZero: false }, splitLine: { show: false },
      axisTick: { show: true, inside: true, length: 9, lineStyle: tickStyle },
      axisLabel: { margin: 11, fontFamily: FONT, fontSize: FS, color: TXT, formatter: (v: number) => String(v) },
      ...(i === 3
        ? {
            name: "{r|time }{i|t}", nameLocation: "middle", nameGap: 44, nameMoveOverlap: false,
            nameTextStyle: { fontFamily: FONT, fontSize: TIME_FS, lineHeight: 32, color: TXT, rich: richTime },
          }
        : {}),
    });
    xAxis.push({
      gridIndex: i, type: "value", min: timeMin, max: timeMax, interval: timeStep, position: "top",
      axisLine: { show: false, onZero: false }, splitLine: { show: false },
      axisTick: { show: true, inside: true, length: 9, lineStyle: tickStyle },
      axisLabel: { show: false },
    });
    const isLog = i !== 2;
    yAxis.push({
      gridIndex: i, type: "value", min: ymin, max: ymax, position: "left",
      axisLine: { show: false, onZero: false }, splitLine: { show: false },
      axisTick: { show: true, inside: true, length: 9, lineStyle: tickStyle, customValues: majors[i] },
      axisLabel: {
        show: true, customValues: labels[i], margin: isLog ? 12 : 10,
        fontFamily: FONT, fontSize: FS, color: TXT,
        formatter: isLog ? powFmt : (v: number) => v.toFixed(1),
        rich: richTick, padding: isLog ? [0, 0, 9, 0] : 0,
      },
      name: names[i], nameLocation: "middle", nameGap: nameGaps[i], nameMoveOverlap: false,
      nameTextStyle: { fontFamily: FONT, fontSize: nameSizes[i], color: TXT, rich: richNameOf(nameSizes[i]) },
    });
    yAxis.push({
      gridIndex: i, type: "value", min: ymin, max: ymax, position: "right",
      axisLine: { show: false, onZero: false }, splitLine: { show: false },
      axisTick: { show: true, inside: true, length: 9, lineStyle: tickStyle, customValues: majors[i] },
      axisLabel: { show: false },
    });
    const hasMinor = minors[i].length > 0;
    ["left", "right"].forEach((pos) => {
      yAxis.push({
        gridIndex: i, type: "value", min: ymin, max: ymax, position: pos, show: hasMinor,
        axisLine: { show: false, onZero: false }, splitLine: { show: false },
        axisTick: { show: hasMinor, inside: true, length: 5, lineStyle: tickStyle, customValues: hasMinor ? minors[i] : [ymin] },
        axisLabel: { show: false },
      });
    });
  });

  const line = (gi: number, data: any[], color: string, extra: any = {}) => ({
    type: "line", xAxisIndex: gi * 2, yAxisIndex: gi * 4, data, showSymbol: false, symbol: "none",
    silent: true, animation: false, clip: true,
    lineStyle: { color, width: LW, cap: "butt", join: "round", ...(extra.lineStyle || {}) },
    itemStyle: { color },
  });

  // panel 1 (in the unexcited stretch all estimators share the same state error)
  const purpleNoise = stateErrPurple.filter(([t]) => t >= 2140 && t <= 2995);
  const purpleNoiseLong = stateErrPurple.filter(([t]) => t >= 2140 && t <= 3170);
  const yellowFull: P = [...stateErrYellowA, ...purpleNoise, ...stateErrYellowB];
  const orangeFull: P = [...seq(0, 10, stateErrOrangeA), ...purpleNoiseLong, ...seq(3180, 10, stateErrOrangeB)];
  series.push(line(0, lg(orangeFull), COL.orange));
  series.push(line(0, lg(yellowFull), COL.yellow));
  series.push(line(0, lg(stateErrPurple), COL.purple));

  // panel 2
  const paramErrOrange: P = [
    ...paramErrOrangeStart, ...seq(70, 10, paramErrOrange1), ...paramErrOrangeMid1, ...seq(430, 10, paramErrOrange2),
    ...paramErrOrangeMid2, ...seq(870, 10, paramErrOrange3), ...paramErrOrangeMid3, ...seq(3640, 10, paramErrOrange4),
    ...paramErrOrangeMid4, ...seq(4800, 10, paramErrOrange5),
  ];
  series.push(line(1, lg(paramErrBlue), COL.blue));
  series.push(line(1, lg(paramErrOrange), COL.orange));
  series.push(line(1, lg([[timeMin, paramErrYellow], [timeMax, paramErrYellow]]), COL.yellow));
  series.push(line(1, lg([[timeMin, paramErrPurple], [timeMax, paramErrPurple]]), COL.purple));

  // panel 3
  const dash = { lineStyle: { type: [32, 18] } };
  series.push(line(2, paramBlue, COL.blue));
  series.push(line(2, paramOrange, COL.orange));
  series.push(line(2, [[timeMin, paramYellow], [timeMax, paramYellow]], COL.yellow));
  series.push(line(2, [[50, paramPurple], [timeMax, paramPurple]], COL.purple));
  series.push(line(2, [[timeMin, trueP], [timeMax, trueP]], COL.black, dash));
  series.push(line(2, [[timeMin, boundLow], [timeMax, boundLow]], COL.gray, dash));
  series.push(line(2, [[timeMin, boundHigh], [timeMax, boundHigh]], COL.gray, dash));

  // panel 4
  const excitation: P = [
    ...excitationStart, ...seq(900, 10, excitationPlateau1), ...excitationMid, ...seq(3650, 10, excitationPlateau2),
    ...excitationEnd,
  ];
  series.push(line(3, lg(excitation), COL.orange));
  series.push(line(3, lg([[timeMin, alphaLevel], [timeMax, alphaLevel]]), COL.black));

  const legendRich = {
    r: { fontFamily: FONT, fontSize: FS, fill: TXT },
    i: { fontFamily: FONT, fontSize: FS, fill: TXT, fontStyle: "italic" },
  };

  const graphic = [
    { type: "rect", z: 100, shape: { x: 171, y: 875.7, width: 276, height: 88.6 }, style: { fill: "#ffffff", stroke: AX, lineWidth: 1.5 } },
    { type: "line", z: 101, shape: { x1: 183, y1: 900, x2: 215, y2: 900 }, style: { stroke: COL.black, lineWidth: LW } },
    { type: "line", z: 101, shape: { x1: 233, y1: 900, x2: 250, y2: 900 }, style: { stroke: COL.black, lineWidth: LW } },
    { type: "line", z: 101, shape: { x1: 183, y1: 936.7, x2: 215, y2: 936.7 }, style: { stroke: COL.gray, lineWidth: LW } },
    { type: "line", z: 101, shape: { x1: 233, y1: 936.7, x2: 250, y2: 936.7 }, style: { stroke: COL.gray, lineWidth: LW } },
    {
      type: "text", z: 101, x: 260, y: 900,
      style: { text: "{r|true }{i|p}{r| = 0.45}", rich: legendRich, fontFamily: FONT, fontSize: FS, fill: TXT, verticalAlign: "middle", align: "left" },
    },
    {
      type: "text", z: 101, x: 260, y: 936.7,
      style: { text: "bounds", fontFamily: FONT, fontSize: FS, fill: TXT, verticalAlign: "middle", align: "left" },
    },
    { type: "rect", z: 100, shape: { x: 171, y: 1510.7, width: 181.7, height: 50.3 }, style: { fill: "#ffffff", stroke: AX, lineWidth: 1.5 } },
    { type: "line", z: 101, shape: { x1: 183, y1: 1535.7, x2: 307, y2: 1535.7 }, style: { stroke: COL.black, lineWidth: LW } },
    {
      type: "text", z: 101, x: 317, y: 1535.7,
      style: { text: "\u03b1", fontFamily: FONT, fontSize: FS, fontStyle: "italic", fill: TXT, verticalAlign: "middle", align: "left" },
    },
  ];

  return {
    animation: false,
    backgroundColor: "#ffffff",
    grid: grids.map((g) => ({
      ...g, show: true, borderColor: AX, borderWidth: 1.5, backgroundColor: "transparent",
      containLabel: false, outerBoundsMode: "none",
    })),
    xAxis,
    yAxis,
    series,
    graphic,
  };
}

export default function App() {
  const ref = useRef<HTMLDivElement>(null);
  useEffect(() => {
    if (!ref.current) return;
    const chart = echarts.init(ref.current, undefined, { renderer: "svg" });
    chart.setOption(buildOption() as any);
    return () => chart.dispose();
  }, []);
  return (
    <div
      ref={ref}
      style={{ position: "absolute", left: 0, top: 0, width: 998, height: 1679, background: "#fff" }}
    />
  );
}
